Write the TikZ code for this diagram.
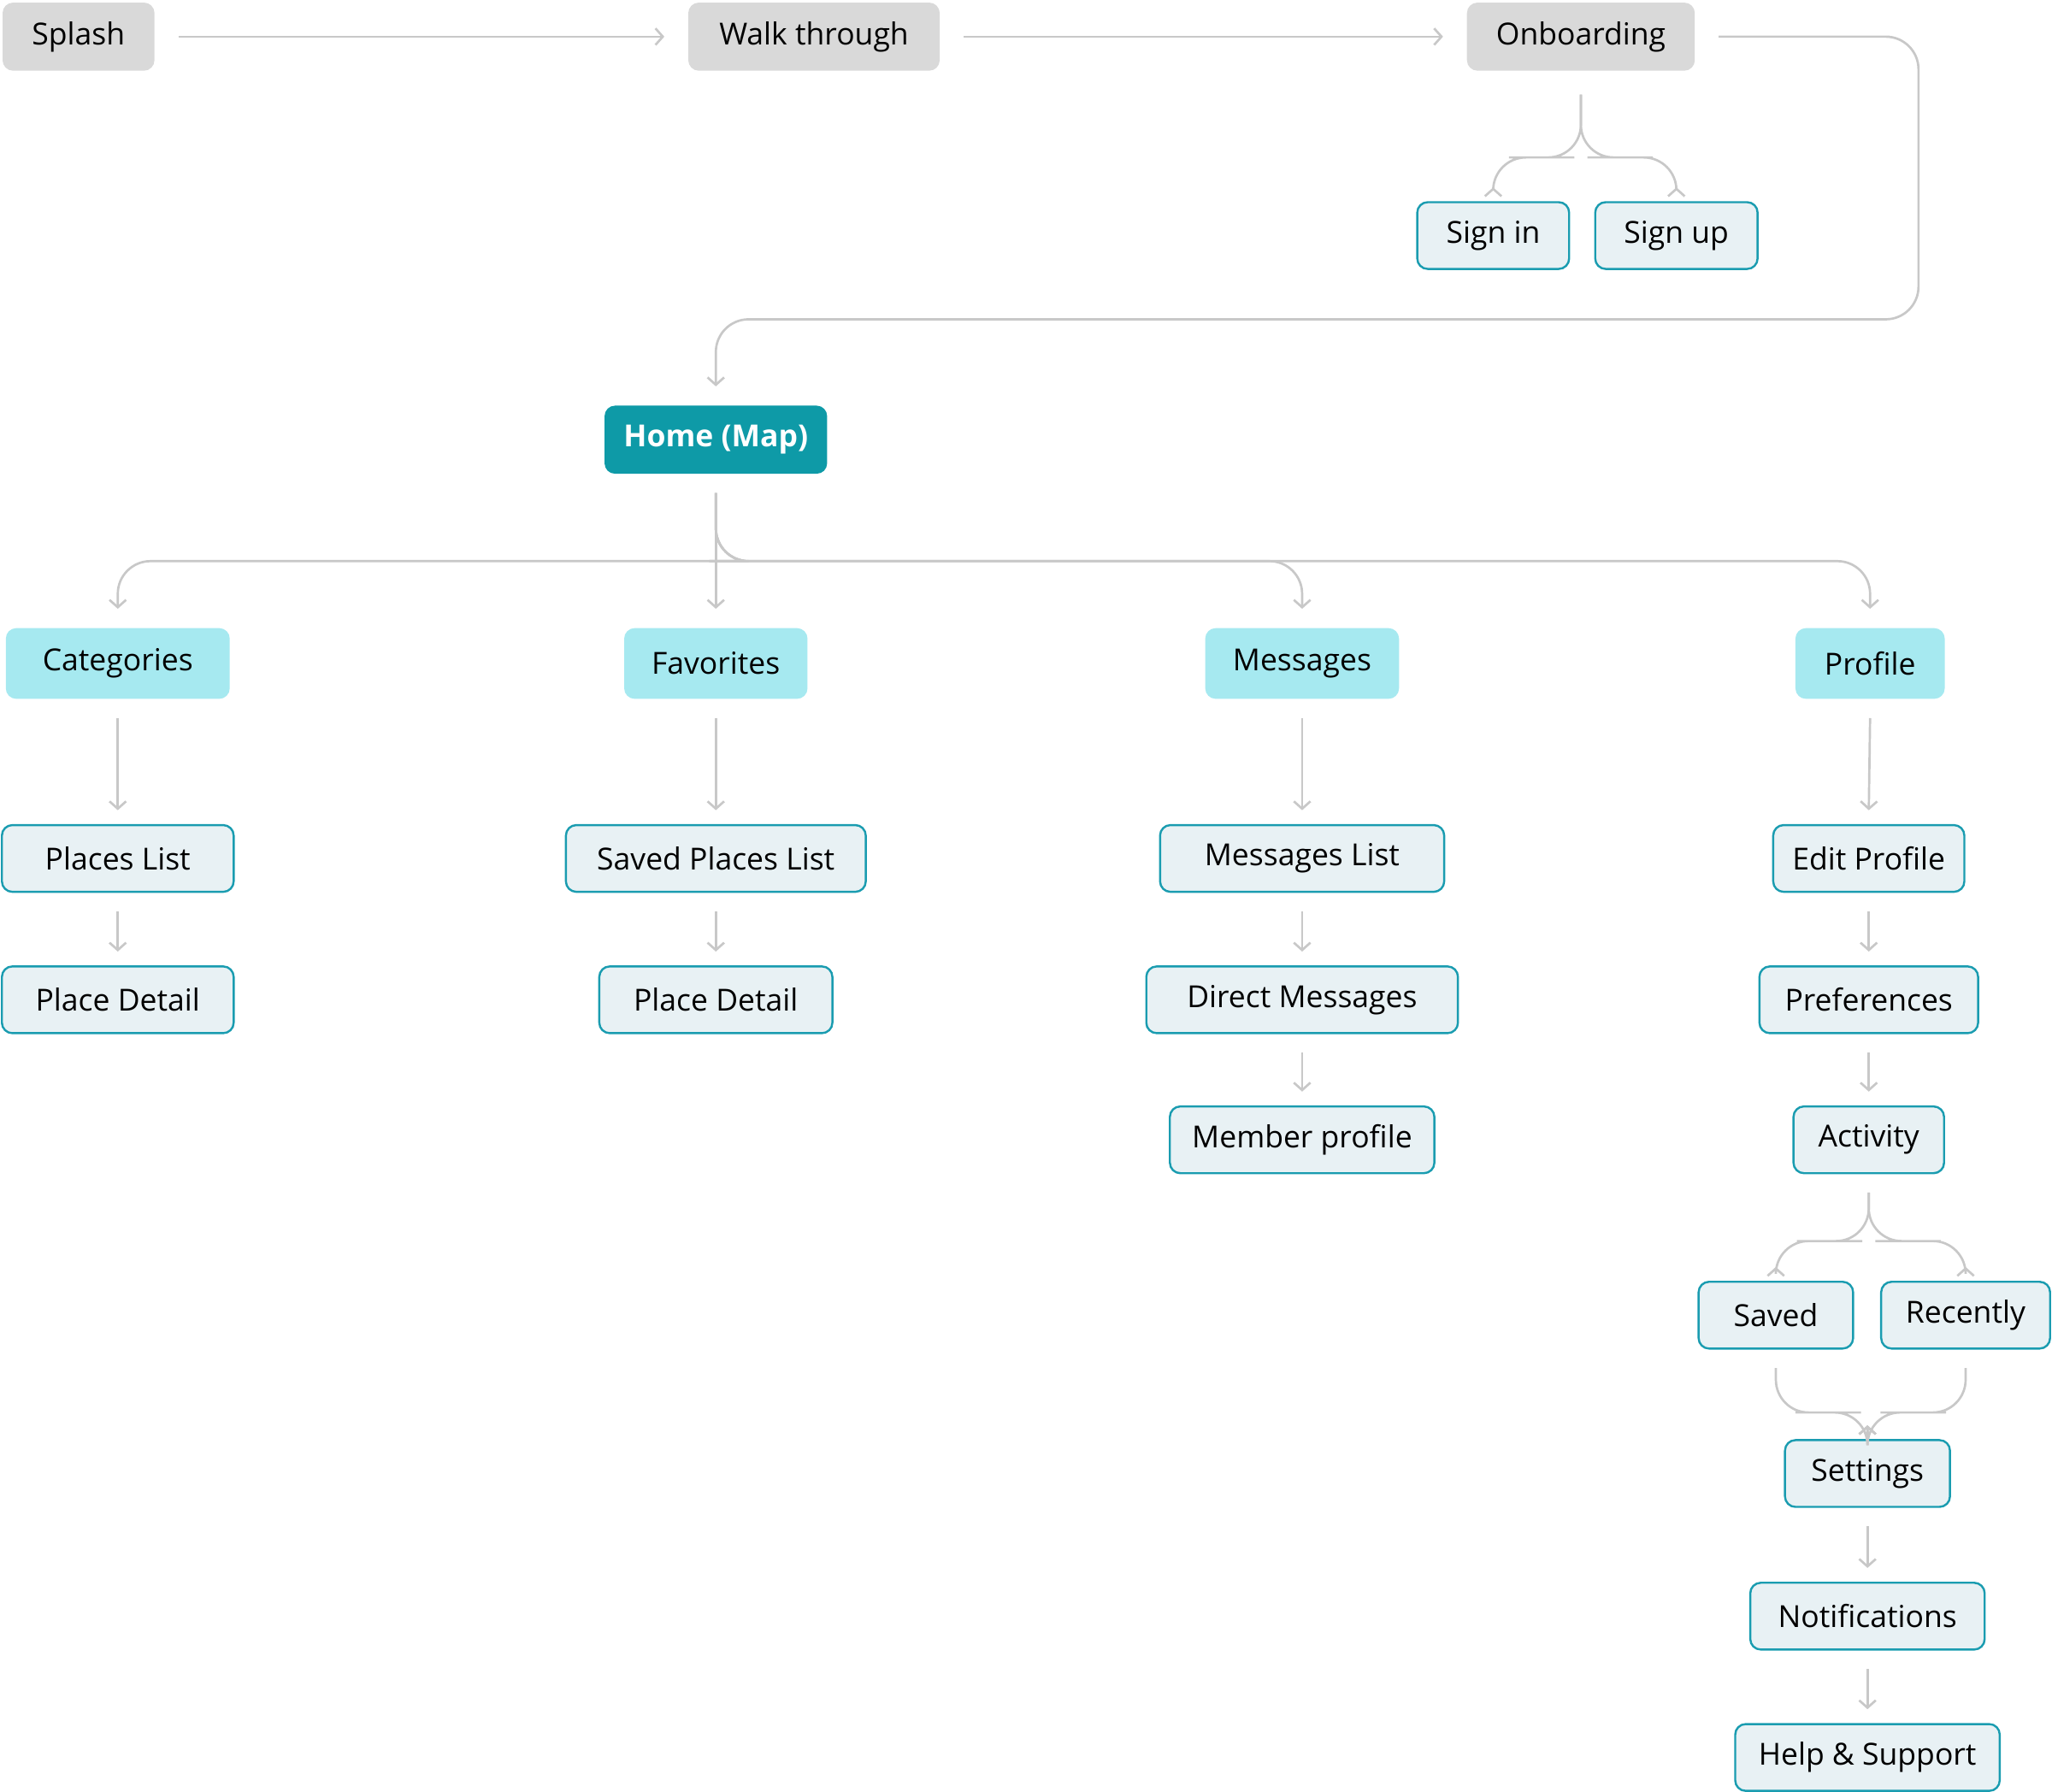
\documentclass[tikz,border=0pt]{standalone}
\usepackage{fontspec}
\setmainfont{Open Sans}
\usetikzlibrary{positioning,arrows.meta}
\definecolor{boxGray}{RGB}{217,217,217}
\definecolor{boxPale}{RGB}{232,241,244}
\definecolor{lineTeal}{RGB}{26,156,176}
\definecolor{homeTeal}{RGB}{14,154,167}
\definecolor{tabCyan}{RGB}{166,233,240}
\definecolor{edgeGray}{RGB}{200,200,200}

\tikzset{
    box/.style={rectangle, rounded corners=0.08cm, minimum height=0.51cm,
        inner sep=0pt, font=\fontsize{6.6}{8}\selectfont},
    start/.style={box, fill=boxGray, minimum height=0.52cm},
    screen/.style={box, fill=boxPale, draw=lineTeal, line width=0.45pt},
    tab/.style={box, fill=tabCyan, minimum height=0.54cm},
    home/.style={box, fill=homeTeal, text=white, minimum height=0.52cm,
        font=\fontsize{6.6}{8}\selectfont\bfseries},
    flow/.style={draw=edgeGray, line width=0.5pt, rounded corners=0.25cm,
        -{Straight Barb[length=1.6pt,width=3.6pt]}}
}

\begin{document}
\begin{tikzpicture}[x=0.01cm, y=-0.01cm]
    \useasboundingbox (0,0) rectangle (1568,1369);

    % start flow
    \node[start, minimum width=1.16cm] (splash) at (60,28) {Splash};
    \node[start, minimum width=1.92cm] (walk) at (622,28) {Walk through};
    \node[start, minimum width=1.74cm] (onboard) at (1208,28) {Onboarding};
    \node[screen, minimum width=1.16cm] (signin) at (1141,180) {Sign in};
    \node[screen, minimum width=1.24cm] (signup) at (1281,180) {Sign up};

    \node[home, minimum width=1.70cm] (home) at (547,336) {Home (Map)};

    % tabs
    \node[tab, minimum width=1.71cm] (cats) at (90,507) {Categories};
    \node[tab, minimum width=1.40cm] (favs) at (547,507) {Favorites};
    \node[tab, minimum width=1.48cm] (msgs) at (995,507) {Messages};
    \node[tab, minimum width=1.14cm] (prof) at (1429,507) {Profile};

    % screens
    \node[screen, minimum width=1.77cm] (plist) at (90,656) {Places List};
    \node[screen, minimum width=1.77cm] (pdetail) at (90,764) {Place Detail};
    \node[screen, minimum width=2.29cm] (splist) at (547,656) {Saved Places List};
    \node[screen, minimum width=1.78cm] (fdetail) at (547,764) {Place Detail};
    \node[screen, minimum width=2.17cm] (mlist) at (995,656) {Messages List};
    \node[screen, minimum width=2.38cm] (dms) at (995,764) {Direct Messages};
    \node[screen, minimum width=2.02cm] (member) at (995,871) {Member profile};
    \node[screen, minimum width=1.46cm] (edit) at (1428,656) {Edit Profile};
    \node[screen, minimum width=1.67cm] (prefs) at (1428,764) {Preferences};
    \node[screen, minimum width=1.15cm] (activity) at (1428,871) {Activity};
    \node[screen, minimum width=1.18cm] (saved) at (1357,1005) {Saved};
    \node[screen, minimum width=1.29cm] (recent) at (1502,1005) {Recently};
    \node[screen, minimum width=1.26cm] (settings) at (1427,1126) {Settings};
    \node[screen, minimum width=1.79cm] (notif) at (1427,1235) {Notifications};
    \node[screen, minimum width=2.02cm] (help) at (1427,1343) {Help \& Support};

    \coordinate (turn) at (1466,140);

    % connectors
    \draw[flow] ([xshift=5pt]splash.east) -- ([xshift=-5pt]walk.west);
    \draw[flow] ([xshift=5pt]walk.east) -- ([xshift=-5pt]onboard.west);
    \draw[flow] ([yshift=-5pt]onboard.south) |- ++(-30,48) -| ([yshift=3pt]signin.north);
    \draw[flow] ([yshift=-5pt]onboard.south) |- ++(30,48) -| ([yshift=3pt]signup.north);
    \draw[flow] ([xshift=5pt]onboard.east) -| (turn) |- (800,244) -| ([yshift=4pt]home.north);

    \foreach \t in {cats, msgs, prof}
        \draw[flow] ([yshift=-4pt]home.south) |- ++(20,52) -| ([yshift=4pt]\t.north);
    \draw[flow] ([yshift=-4pt]home.south) -- ([yshift=4pt]favs.north);

    \foreach \a/\b in {cats/plist, plist/pdetail, favs/splist, splist/fdetail,
        msgs/mlist, mlist/dms, dms/member, prof/edit, edit/prefs, prefs/activity,
        settings/notif, notif/help}
        \draw[flow] ([yshift=-4pt]\a.south) -- ([yshift=3pt]\b.north);

    \draw[flow] ([yshift=-4pt]activity.south) |- ++(-30,37) -| ([yshift=3pt]saved.north);
    \draw[flow] ([yshift=-4pt]activity.south) |- ++(30,37) -| ([yshift=3pt]recent.north);
    \draw[flow] ([yshift=-4pt]saved.south) |- ++(40,34) -| ([yshift=3pt]settings.north);
    \draw[flow] ([yshift=-4pt]recent.south) |- ++(-40,34) -| ([yshift=3pt]settings.north);
\end{tikzpicture}
\end{document}
